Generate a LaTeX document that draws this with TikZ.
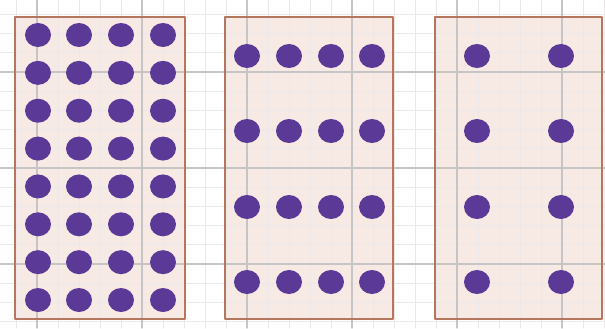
\documentclass[tikz,border=0pt]{standalone}

\definecolor{dotpurple}{RGB}{91,57,150}
\definecolor{panelfill}{RGB}{247,234,228}
\definecolor{paneledge}{RGB}{180,118,92}
\definecolor{gridmajor}{RGB}{198,196,196}
\definecolor{gridminor}{RGB}{236,231,232}

\begin{document}
\begin{tikzpicture}[x=0.02cm, y=-0.02cm, line join=round, line cap=round,
	panel/.style={draw=paneledge, line width=1.6pt},
	panelbg/.style={fill=panelfill},
	dot/.style={fill=dotpurple},
	minorline/.style={gridminor, line width=0.4pt},
	majorline/.style={gridmajor, line width=0.6pt}]

		\useasboundingbox (0,0) rectangle (605,328);

		% ================= panel backgrounds =================
		\fill[panelbg] (15,17) rectangle (185,319);
		\fill[panelbg] (225,17) rectangle (393,319);
		\fill[panelbg] (435,17) rectangle (602,319);

		% ================= grid paper =================
		\foreach \gx in {16,37,...,605}
			\draw[minorline] (\gx,0) -- (\gx,328);
		\foreach \gy in {14.4,33.6,...,328}
			\draw[minorline] (0,\gy) -- (605,\gy);
		\foreach \gx in {37,142,...,605}
			\draw[majorline] (\gx,0) -- (\gx,328);
		\foreach \gy in {72,168,264}
			\draw[majorline] (0,\gy) -- (605,\gy);

		% ================= panel frames =================
		\draw[panel] (15,17) rectangle (185,319);
		\draw[panel] (225,17) rectangle (393,319);
		\draw[panel] (435,17) rectangle (602,319);

		% ================= (1) dense 4 x 8 =================
		\foreach \cx in {38,79,121,163}
			\foreach \r in {0,...,7}
				\fill[dot] (\cx,{35+37.86*\r}) ellipse (0.26cm and 0.24cm);

		% ================= (2) 4 x 4 =================
		\foreach \cx in {247,289,331,372}
			\foreach \cy in {56,131,207,282}
				\fill[dot] (\cx,\cy) ellipse (0.26cm and 0.24cm);

		% ================= (3) 2 x 4 =================
		\foreach \cx in {477,561}
			\foreach \cy in {56,131,207,282}
				\fill[dot] (\cx,\cy) ellipse (0.26cm and 0.24cm);

	\end{tikzpicture}
\end{document}
